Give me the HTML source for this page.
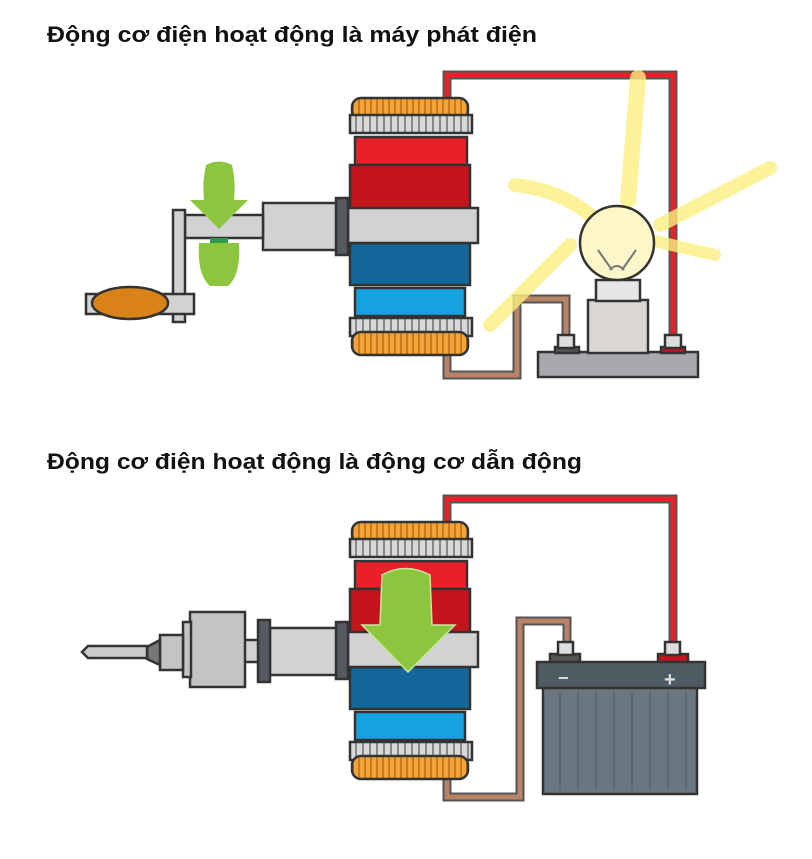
<!DOCTYPE html>
<html><head><meta charset="utf-8"><style>
html,body{margin:0;padding:0;background:#fff;}
svg{display:block;}
text{font-family:"Liberation Sans","DejaVu Sans",sans-serif;font-weight:bold;font-size:22px;fill:#111;}
</style></head><body>
<svg width="812" height="859" viewBox="0 0 812 859" xmlns="http://www.w3.org/2000/svg">
<defs>
<pattern id="coil" width="6" height="20" patternUnits="userSpaceOnUse"><rect width="6" height="20" fill="#f0a43a"/><rect x="4" width="2" height="20" fill="#c97a1c"/></pattern>
<pattern id="ring" width="7" height="20" patternUnits="userSpaceOnUse"><rect width="7" height="20" fill="#d8d8d8"/><rect x="5" width="2" height="20" fill="#888"/></pattern>
<g id="motor" stroke="#333" stroke-width="2.5">
<rect x="352" y="98" width="116" height="22" rx="9" fill="url(#coil)"/>
<rect x="350" y="115" width="122" height="18" fill="url(#ring)"/>
<rect x="355" y="137" width="112" height="28" fill="#e8202a"/>
<rect x="350" y="165" width="120" height="44" fill="#c4151c"/>
<rect x="350" y="243" width="120" height="42" fill="#14679a"/>
<rect x="355" y="288" width="110" height="28" fill="#14a3e0"/>
<rect x="350" y="318" width="122" height="18" fill="url(#ring)"/>
<rect x="352" y="332" width="116" height="23" rx="9" fill="url(#coil)"/>
<rect x="348" y="208" width="130" height="35" fill="#d2d2d4"/>
<rect x="336" y="198" width="12" height="57" fill="#555a60"/>
</g>
</defs>

<text x="47" y="42" textLength="490" lengthAdjust="spacingAndGlyphs">Động cơ điện hoạt động là máy phát điện</text>
<text x="47" y="469" textLength="535" lengthAdjust="spacingAndGlyphs">Động cơ điện hoạt động là động cơ dẫn động</text>

<!-- TOP -->
<g stroke="#333" stroke-width="2">
<path d="M447 100 V75 H673 V340" fill="none" stroke="#555" stroke-width="9"/>
<path d="M447 100 V75 H673 V340" fill="none" stroke="#e8202a" stroke-width="5"/>
<path d="M447 353 V375 H517 V299 H566 V336" fill="none" stroke="#555" stroke-width="9"/>
<path d="M447 353 V375 H517 V299 H566 V336" fill="none" stroke="#b98466" stroke-width="5"/>
</g>
<use href="#motor"/>
<g stroke="#333" stroke-width="2.5">
<rect x="263" y="203" width="73" height="47" fill="#d2d2d4"/>
<rect x="185" y="215" width="78" height="23" fill="#d2d2d4"/>
<rect x="173" y="210" width="12" height="112" fill="#d2d2d4"/>
<rect x="86" y="294" width="108" height="20" fill="#d2d2d4"/>
<ellipse cx="130" cy="303" rx="38" ry="16" fill="#d98218"/>
</g>
<path d="M206 165 Q219 158 232 165 Q236 182 234 200 L248 200 L219 229 L190 200 L204 200 Q202 182 206 165 Z" fill="#8cc63f"/>
<path d="M199 243 L239 243 Q241 275 228 286 L210 286 Q197 275 199 243 Z" fill="#8cc63f"/>
<rect x="210" y="238" width="18" height="5" fill="#2e9a4a"/>
<!-- glow -->
<g stroke="#fbef80" stroke-opacity="0.8" stroke-linecap="round" fill="none">
<path d="M638 78 L628 200" stroke-width="16"/>
<path d="M515 185 Q560 190 590 215" stroke-width="14"/>
<path d="M770 168 L660 225" stroke-width="14"/>
<path d="M650 240 L715 255" stroke-width="12"/>
<path d="M570 245 L490 325" stroke-width="14"/>
</g>
<g stroke="#333" stroke-width="2.5">
<rect x="538" y="352" width="160" height="25" fill="#a7a9ac"/>
<rect x="555" y="347" width="24" height="6" fill="#555"/>
<rect x="558" y="335" width="16" height="13" fill="#ddd"/>
<rect x="661" y="347" width="24" height="6" fill="#c4151c"/>
<rect x="665" y="335" width="16" height="13" fill="#ddd"/>
<rect x="588" y="300" width="60" height="53" fill="#dcd6d2"/>
<rect x="596" y="280" width="44" height="21" fill="#e6e6e6"/>
<circle cx="617" cy="243" r="37" fill="#fdf6c8"/>
<path d="M598 250 L612 270 M636 250 L622 270 M610 270 Q617 262 624 270" fill="none" stroke="#777" stroke-width="2"/>
</g>

<!-- BOTTOM -->
<g stroke="#333" stroke-width="2">
<path d="M447 524 V499 H673 V645" fill="none" stroke="#555" stroke-width="9"/>
<path d="M447 524 V499 H673 V645" fill="none" stroke="#e8202a" stroke-width="5"/>
<path d="M447 777 V797 H520 V621 H567 V645" fill="none" stroke="#555" stroke-width="9"/>
<path d="M447 777 V797 H520 V621 H567 V645" fill="none" stroke="#b98466" stroke-width="5"/>
</g>
<use href="#motor" y="424"/>
<g stroke="#333" stroke-width="2.5">
<rect x="270" y="628" width="66" height="47" fill="#d2d2d4"/>
<rect x="258" y="620" width="12" height="62" fill="#555a60"/>
<rect x="243" y="640" width="15" height="22" fill="#d2d2d4"/>
<rect x="190" y="612" width="55" height="75" fill="#c4c4c6"/>
<rect x="183" y="622" width="8" height="55" fill="#c4c4c6"/>
<rect x="160" y="635" width="23" height="35" fill="#c4c4c6"/>
<path d="M160 640 L147 647 L147 659 L160 665 Z" fill="#777"/>
<path d="M147 646 L88 646 L82 652 L88 658 L147 658 Z" fill="#ccc"/>
</g>
<path d="M382 575 Q405 562 430 575 L432 625 L455 625 L408 672 L362 625 L380 625 Z" fill="#8cc63f" stroke="#c8e6a0" stroke-width="1.5"/>
<g stroke="#333" stroke-width="2.5">
<rect x="550" y="654" width="30" height="8" fill="#555"/>
<rect x="558" y="642" width="15" height="13" fill="#ddd"/>
<rect x="658" y="654" width="30" height="8" fill="#c4151c"/>
<rect x="665" y="642" width="15" height="13" fill="#ddd"/>
<rect x="543" y="686" width="154" height="108" fill="#6b7780"/>
<rect x="537" y="662" width="168" height="26" fill="#4f5b63"/>
</g>
<g stroke="#5d6870" stroke-width="2">
<path d="M560 692V790M578 692V790M596 692V790M614 692V790M632 692V790M650 692V790M668 692V790M686 692V790"/>
</g>
<text x="558" y="684" style="font-size:18px;fill:#ddd">−</text>
<text x="664" y="686" style="font-size:20px;fill:#ddd">+</text>
</svg>
</body></html>
